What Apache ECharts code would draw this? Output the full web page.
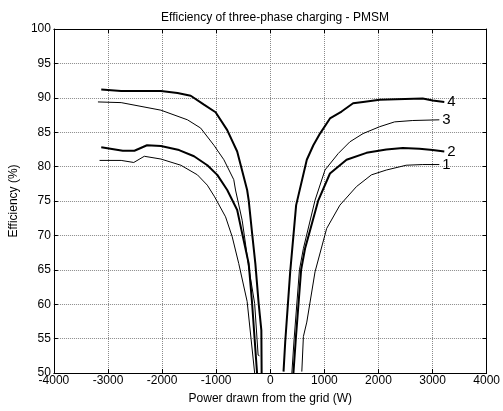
<!DOCTYPE html>
<html>
<head>
<meta charset="utf-8">
<script src="https://cdn.jsdelivr.net/npm/echarts@6/dist/echarts.min.js"></script>
<style>html,body{margin:0;padding:0;background:#fff}#c{width:503px;height:411px}</style>
</head>
<body>
<div id="c"></div>
<script>
var xTicks = [-4000, -3000, -2000, -1000, 0, 1000, 2000, 3000, 4000];
var yTicks = [50, 55, 60, 65, 70, 75, 80, 85, 90, 95, 100];

var curve1Left = [[-3156, 80.9], [-2757, 80.9], [-2524, 80.6], [-2329, 81.5], [-2022, 81.1], [-1654, 80.2], [-1347, 78.8], [-1164, 77.3], [-1029, 75.6], [-827, 72.7], [-704, 69.8], [-583, 65.9], [-428, 60.4], [-289, 50]];
var curve1Right = [[583, 50.2], [612, 55.3], [675, 57.4], [827, 64.7], [1042, 71.0], [1287, 74.4], [1594, 77.1], [1870, 78.8], [2145, 79.5], [2513, 80.2], [2818, 80.3], [3125, 80.3]];

var curve2Left = [[-3125, 82.8], [-2727, 82.3], [-2512, 82.3], [-2279, 83.1], [-2022, 83.0], [-1686, 82.4], [-1410, 81.5], [-1164, 80.2], [-980, 78.8], [-796, 76.6], [-612, 73.7], [-520, 70.3], [-399, 65.9], [-336, 60.1], [-245, 50]];
var curve2Right = [[428, 50], [472, 55], [570, 65], [643, 68.1], [888, 75.1], [1103, 79.0], [1410, 81.0], [1778, 82.0], [2145, 82.5], [2450, 82.7], [2757, 82.6], [3002, 82.4], [3217, 82.2]];

var curve3Left = [[-3186, 89.4], [-2757, 89.3], [-2022, 88.2], [-1531, 86.8], [-1287, 85.6], [-1042, 83.1], [-858, 81.0], [-675, 78.1], [-643, 76.6], [-520, 72.2], [-460, 68.9], [-410, 65.9], [-289, 60.1], [-225, 52.6], [-200, 52.5]];
var curve3Right = [[399, 50], [441, 55], [539, 65], [612, 68.1], [827, 75.1], [1011, 79.5], [1256, 81.9], [1471, 83.6], [1715, 84.8], [2022, 85.8], [2298, 86.5], [2634, 86.7], [3125, 86.8]];

var curve4Left = [[-3125, 91.2], [-2757, 91.0], [-2022, 91.0], [-1715, 90.7], [-1471, 90.3], [-1226, 89.0], [-1011, 87.9], [-796, 85.3], [-612, 82.2], [-428, 76.6], [-399, 75.1], [-336, 70.3], [-276, 65.9], [-215, 60.1], [-165, 56.2], [-160, 50]];
var curve4Right = [[245, 50.2], [276, 54.5], [368, 64.7], [478, 74.4], [675, 81.0], [796, 83.1], [919, 84.8], [1103, 87.0], [1318, 88.0], [1531, 89.2], [1715, 89.4], [2022, 89.7], [2329, 89.8], [2818, 89.9], [3002, 89.6], [3217, 89.4]];

var curveLabels = ['1', '2', '3', '4'];

var font = 'Liberation Sans, Arial, sans-serif';
function mk(data, width, label) {
  var s = {
    type: 'line', data: data, symbol: 'none', smooth: false,
    lineStyle: { color: '#000', width: width }, z: 5,
    animation: false, clip: true
  };
  if (label) {
    s.endLabel = { show: true, formatter: label, color: '#000', fontSize: 15, fontFamily: font, distance: 3 };
  }
  return s;
}

var chart = echarts.init(document.getElementById('c'), null, { renderer: 'canvas' });
var axisCommon = {
  type: 'value',
  axisLine: { show: true, onZero: false, lineStyle: { color: '#000', width: 1 } },
  axisTick: { show: true, inside: true, length: 4, lineStyle: { color: '#000' } },
  axisLabel: { color: '#000', fontSize: 12, fontFamily: font }
};
chart.setOption({
  animation: false,
  backgroundColor: '#fff',
  title: {
    text: 'Efficiency of three-phase charging - PMSM',
    left: 270, top: 7, textAlign: 'center',
    textStyle: { color: '#000', fontSize: 12, fontWeight: 'normal', fontFamily: font }
  },
  grid: { left: 53, right: 16, top: 29, bottom: 38, show: false },
  xAxis: [
    Object.assign({}, axisCommon, {
      min: -4000, max: 4000, interval: 1000, position: 'bottom',
      name: 'Power drawn from the grid (W)', nameLocation: 'middle', nameGap: 20,
      nameTextStyle: { color: '#000', fontSize: 12, fontFamily: font },
      axisLabel: { color: '#000', fontSize: 12, fontFamily: font, margin: 2,
        formatter: function (v) { return xTicks.indexOf(v) >= 0 ? String(v) : ''; } },
      splitLine: { show: true, lineStyle: { color: '#8a8a8a', type: [1, 1], width: 1 } }
    }),
    Object.assign({}, axisCommon, {
      min: -4000, max: 4000, interval: 1000, position: 'top',
      axisLabel: { show: false }, splitLine: { show: false }
    })
  ],
  yAxis: [
    Object.assign({}, axisCommon, {
      min: 50, max: 100, interval: 5, position: 'left',
      name: 'Efficiency (%)', nameLocation: 'middle', nameGap: 33,
      nameTextStyle: { color: '#000', fontSize: 12, fontFamily: font },
      axisLabel: { color: '#000', fontSize: 12, fontFamily: font, margin: 3,
        formatter: function (v) { return yTicks.indexOf(v) >= 0 ? String(v) : ''; } },
      splitLine: { show: true, lineStyle: { color: '#8a8a8a', type: [1, 1], width: 1 } }
    }),
    Object.assign({}, axisCommon, {
      min: 50, max: 100, interval: 5, position: 'right',
      axisLabel: { show: false }, splitLine: { show: false }
    })
  ],
  series: [
    mk(curve1Left, 1, null), mk(curve1Right, 1, curveLabels[0]),
    mk(curve2Left, 2, null), mk(curve2Right, 2, curveLabels[1]),
    mk(curve3Left, 1, null), mk(curve3Right, 1, curveLabels[2]),
    mk(curve4Left, 2, null), mk(curve4Right, 2, curveLabels[3])
  ]
});
</script>
</body>
</html>
